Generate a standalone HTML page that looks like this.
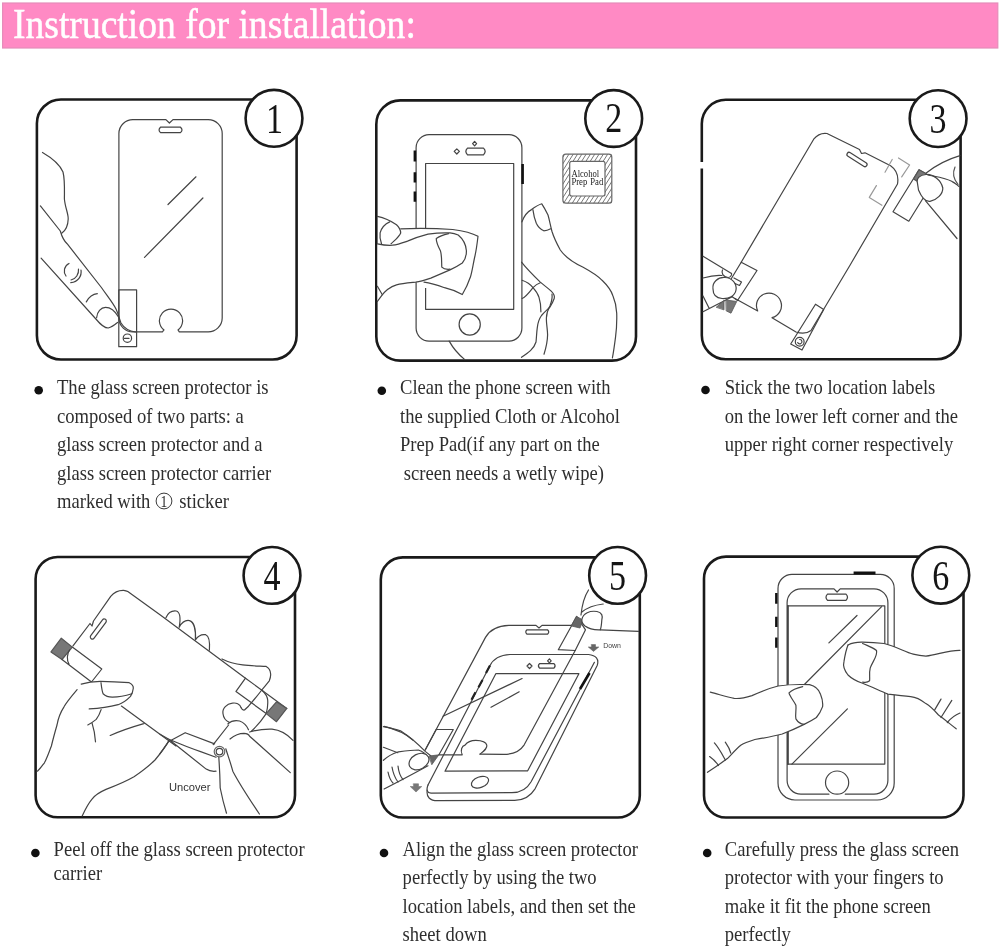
<!DOCTYPE html>
<html><head><meta charset="utf-8">
<style>
html,body{margin:0;padding:0;background:#fff;width:1000px;height:949px;overflow:hidden}
svg{position:absolute;left:0;top:0;will-change:transform}
.t{font-family:"Liberation Serif",serif;font-size:20px;fill:#2e2e2e}
.d{font-family:"Liberation Serif",serif;font-size:42.5px;fill:#151515}
.bx{fill:none;stroke:#1a1a1a;stroke-width:2.6}
.ln{fill:none;stroke:#444;stroke-width:1.2;stroke-linecap:round;stroke-linejoin:round}
</style></head><body>
<svg width="1000" height="949" viewBox="0 0 1000 949">
<!-- header -->
<rect x="2.6" y="3" width="995.2" height="45" fill="#ff8ac4" stroke="#e58dba" stroke-width="1.2"/>
<g transform="translate(13,38.4) scale(0.895,1)"><text x="0" y="0" style="font-family:'Liberation Serif',serif;font-size:42px;fill:#fff;stroke:#fff;stroke-width:0.5">Instruction for installation:</text></g>

<!-- boxes -->
<g id="boxes">
<rect class="bx" x="36.9" y="99.5" width="259.7" height="260" rx="24"/>
<rect class="bx" x="376.3" y="100.4" width="259.7" height="260.2" rx="24"/>
<rect class="bx" x="701.8" y="99.8" width="258.8" height="259.5" rx="24"/>
<rect class="bx" x="35.6" y="557" width="259.4" height="260.3" rx="22"/>
<rect class="bx" x="380.8" y="557.4" width="259" height="260.1" rx="22"/>
<rect class="bx" x="704" y="556.6" width="259.5" height="260.9" rx="22"/>
</g>
<rect x="697" y="162" width="9" height="6.5" fill="#fff"/>
<g id="circles">
<circle class="bx" cx="274" cy="118.3" r="28.4" fill="#fff" style="fill:#fff"/>
<circle class="bx" cx="613.7" cy="118.5" r="28.4" style="fill:#fff"/>
<circle class="bx" cx="938.1" cy="118.6" r="28.4" style="fill:#fff"/>
<circle class="bx" cx="272" cy="575.4" r="28.4" style="fill:#fff"/>
<circle class="bx" cx="617.6" cy="575.4" r="28.4" style="fill:#fff"/>
<circle class="bx" cx="940.8" cy="575.2" r="28.4" style="fill:#fff"/>
</g>
<g id="digits">
<g transform="translate(274.5,132.7) scale(0.8,1)"><text class="d" text-anchor="middle">1</text></g>
<g transform="translate(613.7,132) scale(0.8,1)"><text class="d" text-anchor="middle">2</text></g>
<g transform="translate(938.1,133) scale(0.8,1)"><text class="d" text-anchor="middle">3</text></g>
<g transform="translate(272,589.8) scale(0.8,1)"><text class="d" text-anchor="middle">4</text></g>
<g transform="translate(617.6,589.8) scale(0.8,1)"><text class="d" text-anchor="middle">5</text></g>
<g transform="translate(940.8,589.6) scale(0.8,1)"><text class="d" text-anchor="middle">6</text></g>
</g>

<!-- bullets -->
<g fill="#111">
<circle cx="38.7" cy="390.2" r="4.3"/>
<circle cx="381.8" cy="390.8" r="4.3"/>
<circle cx="705.5" cy="390" r="4.3"/>
<circle cx="35.4" cy="853" r="4.3"/>
<circle cx="384" cy="853" r="4.3"/>
<circle cx="707.2" cy="853" r="4.3"/>
</g>
<!-- texts -->
<circle cx="164" cy="501" r="7.9" style="fill:none;stroke:#3a3a3a;stroke-width:1"/>
<g transform="translate(164,507) scale(0.8,1)"><text text-anchor="middle" style="font-family:'Liberation Serif',serif;font-size:17px;fill:#2e2e2e">1</text></g>

<g transform="translate(57,394) scale(0.93,1)" class="t">
<text y="0">The glass screen protector is</text>
<text y="28.6">composed of two parts: a</text>
<text y="57.2">glass screen protector and a</text>
<text y="85.8">glass screen protector carrier</text>
<text y="114.4">marked with</text>
<text y="114.4" x="131.5">sticker</text>
</g>
<g transform="translate(400,394) scale(0.93,1)" class="t">
<text y="0">Clean the phone screen with</text>
<text y="28.6">the supplied Cloth or Alcohol</text>
<text y="57.2">Prep Pad(if any part on the</text>
<text y="85.8" x="4"> screen needs a wetly wipe)</text>
</g>
<g transform="translate(724.7,394) scale(0.93,1)" class="t">
<text y="0">Stick the two location labels</text>
<text y="28.6">on the lower left corner and the</text>
<text y="57.2">upper right corner respectively</text>
</g>
<g transform="translate(53.6,855.6) scale(0.93,1)" class="t">
<text y="0">Peel off the glass screen protector</text>
<text y="24.6">carrier</text>
</g>
<g transform="translate(402.6,856) scale(0.93,1)" class="t">
<text y="0">Align the glass screen protector</text>
<text y="28.5">perfectly by using the two</text>
<text y="57">location labels, and then set the</text>
<text y="85.5">sheet down</text>
</g>
<g transform="translate(724.8,856) scale(0.93,1)" class="t">
<text y="0">Carefully press the glass screen</text>
<text y="28.5">protector with your fingers to</text>
<text y="57">make it fit the phone screen</text>
<text y="85.5">perfectly</text>
</g>

<!-- drawings -->
<g id="draw" class="ln">
<g id="p1">
<path d="M133.6,119.6 H165.9 L169.4,123 L173,119.6 H208 A14,14 0 0 1 222.2,133.6 V318 A14,14 0 0 1 208,331.9 H179.3 L178,329.9 A11.6,11.6 0 1 0 164,329.9 L162.4,331.9 H133.6 A14,14 0 0 1 118.9,318 V133.6 A14,14 0 0 1 133.6,119.6 Z"/>
<path d="M160.5,127.2 H180.5 Q183.5,129.9 180.5,132.6 H160.5 Q157.6,129.9 160.5,127.2 Z"/>
<path d="M168,204.5 L196,176.8 M144.5,257.4 L202.9,198"/>
<rect x="118.8" y="289.9" width="17.8" height="56.8"/>
<circle cx="127.4" cy="338.2" r="4.2"/><path d="M124.5,338.4 H129"/>
<path d="M42.5,152.5 C52,158 60,165 63,172 C65,180 64.4,190 64.4,199 C65,207 68.5,214 68.2,219 C68,226 65,231 61.7,233.3"/>
<path d="M40.4,205.9 L60.3,231 C62,237 64,241 67.1,243.7 L101.4,287.5 C108,297 113,303 116,309 C118.5,314 119.2,319 121,323 C124,328 128,331 135.6,332"/>
<path d="M41.1,258.1 L95.9,319 C100,324 104,328 108.2,328 C112,327 114.5,325 117.5,322.5"/>
<path d="M96.6,317.7 C97,312 101,307.4 105.5,307.4 C110,307.4 115,311 118.5,317"/>
<path d="M66,276 C63,272 64,266 69,263.5 M71,280 C76,279 79,274 78.5,269 M70.8,282.6 C78,282 82,276 81,270"/>
<path d="M86.3,301.9 C89,297 93,294 97.3,293.7"/>
</g>
<g id="p2">
<path d="M429.5,134.7 H509 A13,13 0 0 1 521.9,147.7 V328 A13,13 0 0 1 509,341.1 H429.3 A13,13 0 0 1 416.1,328 V147.7 A13,13 0 0 1 429.5,134.7 Z"/>
<path d="M425.6,288 V163.5 H513.7 V309.3 H425.6 Z"/>
<circle cx="469.7" cy="324.5" r="10.6"/>
<path d="M456.8,148.8 L459.4,151.4 L456.8,154 L454.2,151.4 Z"/>
<path d="M467.5,148.2 H483.5 Q486.8,151.5 483.5,154.8 H467.5 Q464.2,151.5 467.5,148.2 Z"/>
<path d="M474.6,141.4 L476.6,143.6 L474.6,145.8 L472.6,143.6 Z"/>
<path d="M414.9,150.4 V161.4 M414.9,172.3 V182.6 M414.9,191.5 V201.8 M522.6,164.1 V184" style="stroke:#111;stroke-width:2.6;stroke-linecap:butt"/>
<clipPath id="padclip"><path fill-rule="evenodd" d="M562.9,154.2 H611.8 V203.2 H562.9 Z M569.7,161.4 V196 H605 V161.4 Z"/></clipPath>
<g clip-path="url(#padclip)"><path d="M532.9,204.2 l33,-52 M537.2,204.2 l33,-52 M541.5,204.2 l33,-52 M545.8,204.2 l33,-52 M550.1,204.2 l33,-52 M554.4,204.2 l33,-52 M558.7,204.2 l33,-52 M563.0,204.2 l33,-52 M567.3,204.2 l33,-52 M571.6,204.2 l33,-52 M575.9,204.2 l33,-52 M580.2,204.2 l33,-52 M584.5,204.2 l33,-52 M588.8,204.2 l33,-52 M593.1,204.2 l33,-52 M597.4,204.2 l33,-52 M601.7,204.2 l33,-52 M606.0,204.2 l33,-52 M610.3,204.2 l33,-52 M614.6,204.2 l33,-52 M618.9,204.2 l33,-52 M623.2,204.2 l33,-52" style="stroke:#666;stroke-width:0.9"/></g>
<rect x="562.9" y="154.2" width="48.9" height="49" rx="3" style="stroke:#666"/>
<rect x="569.7" y="161.4" width="35.3" height="34.6" rx="2" style="stroke:#666"/>
<g transform="translate(571.4,176.8) scale(0.9,1)"><text style="font-family:'Liberation Serif',serif;font-size:9.6px;fill:#222;stroke:none">Alcohol</text></g>
<g transform="translate(571.4,184.7) scale(0.9,1)"><text style="font-family:'Liberation Serif',serif;font-size:9.6px;fill:#222;stroke:none;word-spacing:1px">Prep Pad</text></g>
<path style="fill:#fff;stroke:none" d="M400.7,228.8 C420,228 440,228.6 452.7,229.5 C464,231 472,233 478,236.3 C477,245 476,252 474.6,257.5 C473,265 472,272 470.5,276.7 C468,284 465,290 462.3,294.5 C456,291 450,289 444.5,287.7 C437,285 430,283 424,282.2 L415.7,282.2 C408,283 402,283.5 396.5,284.9 C390,287 385,291 381.5,295.9 L377.4,301.4 L377.4,243.8 C385,244 395,238 400.7,232.9 Z M423.5,281 H428 V288 H423.5 Z"/>
<path d="M400.7,228.8 C420,228 440,228.6 452.7,229.5 C464,231 472,233 478,236.3 C477,245 476,252 474.6,257.5 C473,265 472,272 470.5,276.7 C468,284 465,290 462.3,294.5 C456,291 450,289 444.5,287.7 C437,285 430,283 424,282.2"/>
<path d="M377.4,243.8 C383,245 388,245.5 392.4,245.2 C398,244.5 402,243 407.5,241.1 C415,238 421,236 428,234.2 C436,233 444,232.6 450,232.9 C454,233.2 456,234 458.2,235 C463,239 466,245 466.4,250.7 C466.5,256 465,260 462.3,263 C458,266 454,268 450,269.9 C444,272.5 437,275.5 430.8,278.1 C425,280 420,281.5 415.7,282.2 C408,283 402,283.5 396.5,284.9 C390,287 385,291 381.5,295.9 L377.4,301.4"/>
<path d="M448.6,233.6 C443,235 439,236.5 436.3,238.4 C436,242 438,246 440.4,250.7 C442,256 441.5,262 441.8,267.1 C444,269.5 447,269.5 450,269.2"/>
<path d="M377.4,216.4 C385,218 391,221 396.5,224.7 C399,227 400.5,229.5 400.7,232.9 C399,237 395,240 391.1,243.8"/>
<path d="M389.7,221.9 C385,224 381.5,228 380.1,232.9 C379.5,237 380.5,241 381.5,243.8"/>
<path d="M377.4,286.3 L382.2,294.5"/>
<path d="M521.9,221.9 C524,216 527,212 531.5,209.6 C535,207 538,205 541.8,203.8 C544,207 546,211 548,215 C549.5,220 550.5,226 552,231.5 C554,238 557,244 560.3,250 C566,258 574,263 582.7,267 C590,271 597,275 602.1,280.3 C607,285 611,290 613,296 C615.5,302 616.5,308 616.7,313 C617,322 616.5,330 615.5,337.3 C614.5,345 613.5,352 612.4,358"/>
<path d="M532.9,209.6 C533.5,214 534.5,219 536.3,223.3 C538,227 540.5,229.5 543.8,230.8 C546,230.8 548.5,230 550.7,228.8"/>
<path d="M521.5,262.1 C527,269 534,276 540.3,282.1 C544,285.5 548,288 551.2,291.2 C553.5,293.5 555,296 554.2,298.5 C553,302 551.5,304.5 550,307 C547,310 544,312.5 541.5,315.5 C539,319 537.8,323 537.3,327.6 C536.5,333 536.5,338 536,342 C534,349 528,353 521.5,357.3"/>
<path d="M522.1,280.3 C527,282 530.5,284.5 533,287.6 C536,291 538,294 539,297.3 C540.5,302 541,307 540.9,311.8"/>
<path d="M522.1,298.5 C526,297 529.5,292 533,287.6 C535.5,285 538,283.5 540.3,282.7"/>
<path d="M552,294 C552.5,298 551.5,302 550,305.8 C548,309.5 546.5,313.5 546.4,317.9 C546.2,323 547.5,329 547.6,334.8 C547.5,341 546,348 544,354.2"/>
<path d="M449.2,341.1 C453,348 458,354 464.8,359.6"/>
</g>
<g id="p3">
<path d="M741.2,262.2 L813.7,139.2 Q819,132.5 827,133.5 L859.5,149.5 L861.5,153.5 L865,152.8 L890.6,165.8 Q899.5,172 897.5,184 L850,265.2 L811,330.5 Q805,335 796,332 L772,317.7 A12.5,12.5 0 1 0 757.7,311 L735,298.5"/>
<rect x="-11.5" y="-2.2" width="23" height="4.4" rx="2.2" transform="translate(857,159.5) rotate(32.5)"/>
<path d="M885,172.2 L892.2,159.5 M898.5,158 L909.6,165 L901.7,176.9 M876.4,185.6 L869.3,197.4 L881.9,205.3" style="stroke:#999;stroke-width:1.2"/>
<path d="M919,169.8 L893,211.7 L908.8,221.2 L934.8,179.3 Z"/>
<path d="M919,169.8 L913.5,179 L920,183 L926,173.5 Z" style="fill:#777;stroke:#555"/>
<path style="fill:#fff" d="M917.5,183.5 C916,178 920,175 926,174.5 C933,174 941,180 942.8,188 C943,194 937,200 930,201.4 C925,202 921,196 918.5,190 Z"/>
<path d="M926.2,173 C935,166 945,160 960,155.6 M925.4,200.6 L957,238.5 M928,175 C938,177 946,178 952.2,181.6 C955,183 957,185 959,186.4"/>
<path d="M955,167 Q951,176 958,184.5" style="stroke:#555"/>
<path d="M741.2,262.2 L757,270.5 L737.5,300.5 L732.2,296.7 M741.2,262.2 L730.5,280"/>
<path d="M815.5,304.2 L823.7,309.5 L802,350 L790.7,344 Z"/>
<circle cx="799.7" cy="341.7" r="4.4"/><path d="M799.7,339.5 a2.2,2.2 0 1 1 -2,3"/>
<path d="M703,256.2 L731.5,273.5"/>
<path d="M703,278 C710,276 716,275 722,275.5"/>
<path style="fill:#fff" d="M713,289 C712,282 718,277 725,277.5 C732,278 737,283 736,290 C735,296 729,299 722,298.5 C716,298 713,294 713,289 Z"/>
<path d="M722.5,270 C721,273 723,277 728,277.5 C731,277.5 732,274 731.5,273.5 M734,278 L741.5,282 L739.5,285.5 L735,283.5"/>
<path d="M703,311.7 L732.2,296.7 M703,296 L709,308"/>
<path d="M716.5,307 L724,300.5 L724,309.5 Z M726.2,300 L736.7,301.5 L731,313.2 L726.5,311 Z" style="fill:#777;stroke:#555;stroke-width:0.8"/>
</g>
<g id="p4">
<path d="M73,645.8 L90,623.5 L92,626 L93.5,621 L110.7,596.4 Q116,590 123.7,590.3 Q126,590.5 127.8,591.6 L160,614.7 L245.5,678.2 L286.8,708.4"/>
<rect x="-12" y="-2.1" width="24" height="4.2" rx="2.1" transform="translate(98.3,629) rotate(-53.5)"/>
<path d="M61.3,638.2 L72.3,647.1 L62,659.5 L51,651.9 Z" style="fill:#777;stroke:#555"/>
<path d="M72.3,647.1 L101.8,669 L91.5,682 L62,659.5 M69.5,650 C67,654 66.5,660 69,664"/>
<path style="fill:#fff;stroke:none" d="M81.2,684.1 C88,682 94,681.4 100.4,681.4 C110,681.5 120,682 129.2,682.7 C132,684 133.5,686 133.3,688.2 C133,691 132,694 130.5,696.4 C127,700 123,703 118.2,704.7 C110,707 100,708.5 89.2,708.9 L76,706 Z"/>
<path d="M81.2,684.1 C88,682 94,681.4 100.4,681.4 C110,681.5 120,682 129.2,682.7 C132,684 133.5,686 133.3,688.2 C133,691 132,694 130.5,696.4 C127,700 123,703 118.2,704.7 C110,707 100,708.5 89.2,708.9"/>
<path d="M101,682.7 C101.5,687 102,691 103.1,693.7 C106,696.5 109,697.2 112.7,697.1 C120,697 126,695.5 131.9,693.7"/>
<path d="M77.1,689.6 C70,698 66,703 64,706.8 C60,713 58,719 57,725 C55,732 53,739 51.4,746 C49,752 47,758 44.4,762.8 C42,766 40,769 37.4,771.2"/>
<path d="M101.1,709.6 C100,713 98.5,716.5 96.2,719.4 C93,722 90,724 87.8,725 M92,722.9 C94,729 95,735 95.5,741.8"/>
<path d="M121.4,706.1 L176,746 M110.2,735.5 C120,731 132,727 143.8,723.6"/>
<path d="M169,740.4 C165,748 160,754 155,760 C148,767 141,772 134,776.8 C125,782 115,786 106,789.4 C100,792 95,795 92,799.2 C88,804 85,810 82.2,816"/>
<path d="M165.9,617.7 C168,613 172,610.5 176.2,611 C180,612 181,617 179.2,627.3 C182,622 186,620 189.5,620.6 C194,622 196,630 195.4,639.8 C198,636 202,634 205.7,634.7 C209,636 210,642 209.4,650.1"/>
<path d="M222,659 C228,662 235,664 242.6,664.9 C250,666 258,666 266.2,666.4 C269,668 270.5,671 270.6,673.7 C271,677 270,679 269.1,681.1 C267,684 264,687 261.8,690 C258,695 253,701 248.5,706.2 L244.5,710 C243,710.5 242,709.5 241.1,707.7"/>
<path d="M245.5,678.2 L236,691.4 L266.2,713.6 M261.8,690 C265,693 267.5,697 267.7,700.3 C268,705 267.5,709 266.2,713.6 C262,720 257,726 251.4,731.3"/>
<path d="M276.5,701.8 L286.8,708.4 L276.5,721.7 L266.2,713.6 Z" style="fill:#777;stroke:#555"/>
<path d="M241.1,707.7 C240,704 236,702.5 232.3,703.2 C227,704 222,708 223,713.8 C223.5,718 226,721 229.3,722.4"/>
<path d="M227.8,723.9 C231,721 235,720 239.6,721 C244,722.5 247,726 248.5,729.8"/>
<path d="M160,734.2 L168.4,739 C180,744 190,748 200.6,751.6 L216,757.2 M160,753.7 L168.4,741.8 L185.2,732.7 L214.6,743.9 M168.4,739 L206.2,769.1 C209,771 213,771.5 216,771.2"/>
<path d="M228.6,725 L213.2,744.6"/>
<path style="fill:#fff;stroke:none" d="M230,739 C235,735 240,733.4 244,733.4 C247,733.5 249,735 249.6,736.2 L290.3,772.6 L293,790 L259.4,814 L226.5,813.2 L220.2,788 L218.8,757.2 C222,748 226,742 230,739 Z"/>
<path d="M230,739 C235,735 240,733.4 244,733.4 C247,733.5 249,735 249.6,736.2 L290.3,772.6"/>
<path d="M249.6,732 C256,730 264,729 272,729.2 C280,730 287,734 293,740.4"/>
<path d="M225.8,748.8 C228,756 231,764 232.8,771.2 C240,785 250,800 259.4,814"/>
<path d="M218.8,757.2 C219.5,767 220,778 220.2,788 C222,797 224,805 226.5,813.2"/>
<circle cx="219.5" cy="751.6" r="3.3"/><circle cx="219.5" cy="751.6" r="5.3" style="stroke:#666"/>
<text x="169" y="790.8" style="font-family:'Liberation Sans',sans-serif;font-size:10px;fill:#333;stroke:none" textLength="41.5" lengthAdjust="spacingAndGlyphs">Uncover</text>
</g>
<g id="p5">
<path d="M425.2,750 L485.5,637.4 Q492,626 508.8,625.4 L536,625.4 L539,628 L542,625.4 L576,625.4"/>
<path d="M575.2,650.5 L524.2,744.8 Q518,754.4 503.7,754.4 L480,754.1"/>
<path d="M527,629.8 H547.5 Q550,632 547.5,634.2 H527 Q524.5,632 527,629.8 Z"/>
<path d="M576.7,616.5 L585.5,629.8 L575.2,650.5 L558.3,649.7 Z"/>
<path d="M576.7,616.5 L583,620 L580,628 L571.5,626 Z" style="fill:#666;stroke:#555;stroke-width:0.8"/>
<path style="fill:#fff" d="M581.9,619.5 C583,613 590,610.5 597,611.5 C602,612.5 603,616 601.8,620 C601.5,625 601,628 600.3,629.8 C595,630 589,629 585,626 C582.5,624 581.5,622 581.9,619.5 Z"/>
<path d="M581.9,612 C588,607 595,605 603.2,604 M581,615 C582,605 584,597 588.5,590 M600.3,629.8 L638.6,631.3"/>
<path d="M591.5,644.6 L595.5,644.6 L595.5,647 L598.8,647 L593.5,651.4 L588.3,647 L591.5,647 Z" style="fill:#666;stroke:#666;stroke-width:0.6"/>
<text x="603.2" y="647.8" style="font-family:'Liberation Sans',sans-serif;font-size:8px;fill:#444;stroke:none" textLength="17.8" lengthAdjust="spacingAndGlyphs">Down</text>
<path d="M428,785 L489.6,666.2 Q495,655 510,654.5 L588.5,654.5 Q600,656 597.3,665.2 L535.2,788.6 Q528,800.3 514.7,800.3 L437.5,800.7 C430,800.7 426,797 427.3,790"/>
<path d="M594.4,662.3 L531.1,781.8 Q525,792.7 511.9,792.7 L431,793.2 C427,793 426,790 428,785"/>
<path d="M589.5,673 L580,689" style="stroke:#111;stroke-width:2.6;stroke-linecap:butt"/>
<path d="M490,665.5 L486,672.9 M482.5,680 L478.5,687.2 M475.5,692.2 L471.5,699.8" style="stroke:#222;stroke-width:2.2;stroke-linecap:butt"/>
<path d="M529.5,663.5 L532,666 L529.5,668.5 L527,666 Z M539.5,663.7 H554 Q556.2,666 554,668.2 H539.5 Q537.3,666 539.5,663.7 Z M549.4,658.8 L551.2,660.8 L549.4,662.8 L547.6,660.8 Z"/>
<path d="M445,771.2 L495.8,673.7 H578.9 L527.7,770.8 Z"/>
<path d="M443,716.2 L522.1,678.5 M491,707.3 L519.2,691.8"/>

<ellipse cx="480" cy="782.2" rx="9" ry="5.3" transform="rotate(-20 480 782.2)"/>
<path d="M438.9,754.8 L462.2,754.8 C460,750 462,746 465,745.2 C468,741 472,740.4 475.9,740.4 C481,740.5 486,742 486.8,745.2 C487.5,748.5 484,751 480,754.1"/>
<path d="M436.2,729.5 L453.3,729.5 L438.9,754.8 M436.2,729.5 L425.2,750"/>
<path style="fill:#fff;stroke:none" d="M383.4,760.3 C388,756 393,753.5 397.8,752 C405,751 412,750 418.4,750 C423,751.5 426,754 428,757.5 L428,765.8 C415,773 400,781 384.1,789 Z"/>
<path d="M383.4,726.7 C390,728 395,729 400.5,730.8 C410,737 418,744 425.2,751.4 L431,756"/>
<path d="M383.4,760.3 C388,756 393,753.5 397.8,752 C405,751 412,750 418.4,750 C423,751.5 426,754 428,757.5"/>
<path d="M383.4,747.3 L397.8,752.7"/>
<path d="M384.1,789 C398,782 413,774 428,765.8"/>
<ellipse cx="419" cy="761.6" rx="10.5" ry="7.6" transform="rotate(-28 419 761.6)" style="fill:#fff"/>
<path d="M429.3,756 L438.9,754.8 L432,764.4 Z" style="fill:#666;stroke:#555;stroke-width:0.8"/>
<path d="M388,772 C389,777 390,780 393,783 M392,767 C393,773 395,778 398,782 M398,766 C398.5,771 400,776 403,779.5"/>
<path d="M413.5,783.8 L418.5,783.8 L418.5,786.5 L421.8,786.5 L416,792 L410.2,786.5 L413.5,786.5 Z" style="fill:#777;stroke:#777;stroke-width:0.6"/>
<path d="M384.1,726.4 C395,729 405,733 412.9,740"/>
</g>
<g id="p6">
<path d="M792,574.4 H880 A14,14 0 0 1 894.2,588.4 V783 A17,17 0 0 1 877,800 H795 A17,17 0 0 1 778,783 V588.4 A14,14 0 0 1 792,574.4 Z"/>
<path d="M853.6,573 H875.5" style="stroke:#111;stroke-width:3;stroke-linecap:butt"/>
<path d="M776.3,592.9 V603.8 M776.3,616.8 V627.1 M776.3,637.4 V647.7" style="stroke:#111;stroke-width:2.4;stroke-linecap:butt"/>
<path d="M801,588.8 H834 L837.1,592 L840.2,588.8 H874 A14,14 0 0 1 887.9,602.8 V780 A14,14 0 0 1 874,794.2 H845.3 M828.9,794.2 H801 A14,14 0 0 1 787.1,780 V602.8 A14,14 0 0 1 801,588.8"/>
<path d="M827.5,594.2 H846 Q849,597.3 846,600.4 H827.5 Q824.5,597.3 827.5,594.2 Z"/>
<path d="M787.6,605.9 H884.8 V764.1 H787.6 Z"/>
<path d="M787.9,606 V764" style="stroke-width:1.8"/>
<circle cx="837.1" cy="782.6" r="11.6"/>
<path d="M828.9,642.9 L857,615.5 M881.6,606.6 L802.9,686 M847.4,708.9 L791.9,764.1"/>
<path style="fill:#fff;stroke:none" d="M848,645 C852,643 856,642 862.6,642.2 C870,642.5 878,643 884.1,643.5 C895,646 905,652 913.2,654.2 C918,655.5 922,656 925.9,656.1 C937,655 948,650 960,650.3 L960,712 L956.2,728.8 C950,724 944,719 938.5,715 C934,710 930,706 925.9,703.6 C920,699 915,697 910.7,696.6 C903,696 895,695 887.9,694.1 C880,691 870,686 862.6,683.3 C856,681 852,679 848,675 C844,670 843,665 844,661.4 C845,655 846,650 848,645 Z"/>
<path d="M848,645 C852,643 856,642 862.6,642.2 C870,642.5 878,643 884.1,643.5 C895,646 905,652 913.2,654.2 C918,655.5 922,656 925.9,656.1 C937,655 948,650 960,650.3"/>
<path d="M862.6,643.5 C868,646 873,647.5 876.5,650.5 C878,656 872,662 870.2,668.2 C869,673 870,677 869.6,680.8 C867,683 865,682.5 862.6,682"/>
<path d="M848,645 C846,650 845,655 844,661.4 C843,665 844,670 848,675 C852,679 856,681 862.6,683.3 C870,686 880,691 887.9,694.1 C895,695 903,696 910.7,696.6 C915,697 920,699 925.9,703.6 C930,706 934,710 938.5,715 C944,719 950,724 956.2,728.8"/>
<path d="M934.7,709.9 L941,699.1 M941,717.5 L951.8,700.4 M947.3,722.5 C951,718 955,715 960,713"/>
<path style="fill:#fff;stroke:none" d="M710.3,692.2 C718,694 726,697 734.2,698.4 C740,699 746,697.5 752,695.6 C760,692 770,688 778.1,686 C788,684.5 800,684.3 809.6,684.7 C815,686 819,690 820.5,694.2 C822.5,699 823,703 822.6,706.6 C821,711 819,714.5 816.4,717.5 C812,720.5 808,722.5 804.1,724.4 C797,728 790,731 782.2,734 C773,736.5 764,738 754.8,739.5 C750,741 745,742.5 741.1,745 C736,749 732,754 727.4,758.6 C720,764 714,768 707.5,772.3 L706,700 Z"/>
<path d="M710.3,692.2 C718,694 726,697 734.2,698.4 C740,699 746,697.5 752,695.6 C760,692 770,688 778.1,686 C788,684.5 800,684.3 809.6,684.7 C815,686 819,690 820.5,694.2 C822.5,699 823,703 822.6,706.6 C821,711 819,714.5 816.4,717.5 C812,720.5 808,722.5 804.1,724.4 C797,728 790,731 782.2,734 C773,736.5 764,738 754.8,739.5 C750,741 745,742.5 741.1,745 C736,749 732,754 727.4,758.6 C720,764 714,768 707.5,772.3"/>
<path d="M802.7,686.7 C797,688 792,690 789,692.9 C790,697 794,701 795.9,705.2 C796.5,710 795,715 795.9,718.9 C798,722.5 801,724 804.1,724.4"/>
<path d="M714.4,742.9 C719,748 722,754 725.3,760 M725.3,742.2 C728,746 730,750 730.8,753.2 M709.6,756.6 C713,759 716,762 718.5,765.5"/>
</g>
</g>
</svg>
</body></html>
